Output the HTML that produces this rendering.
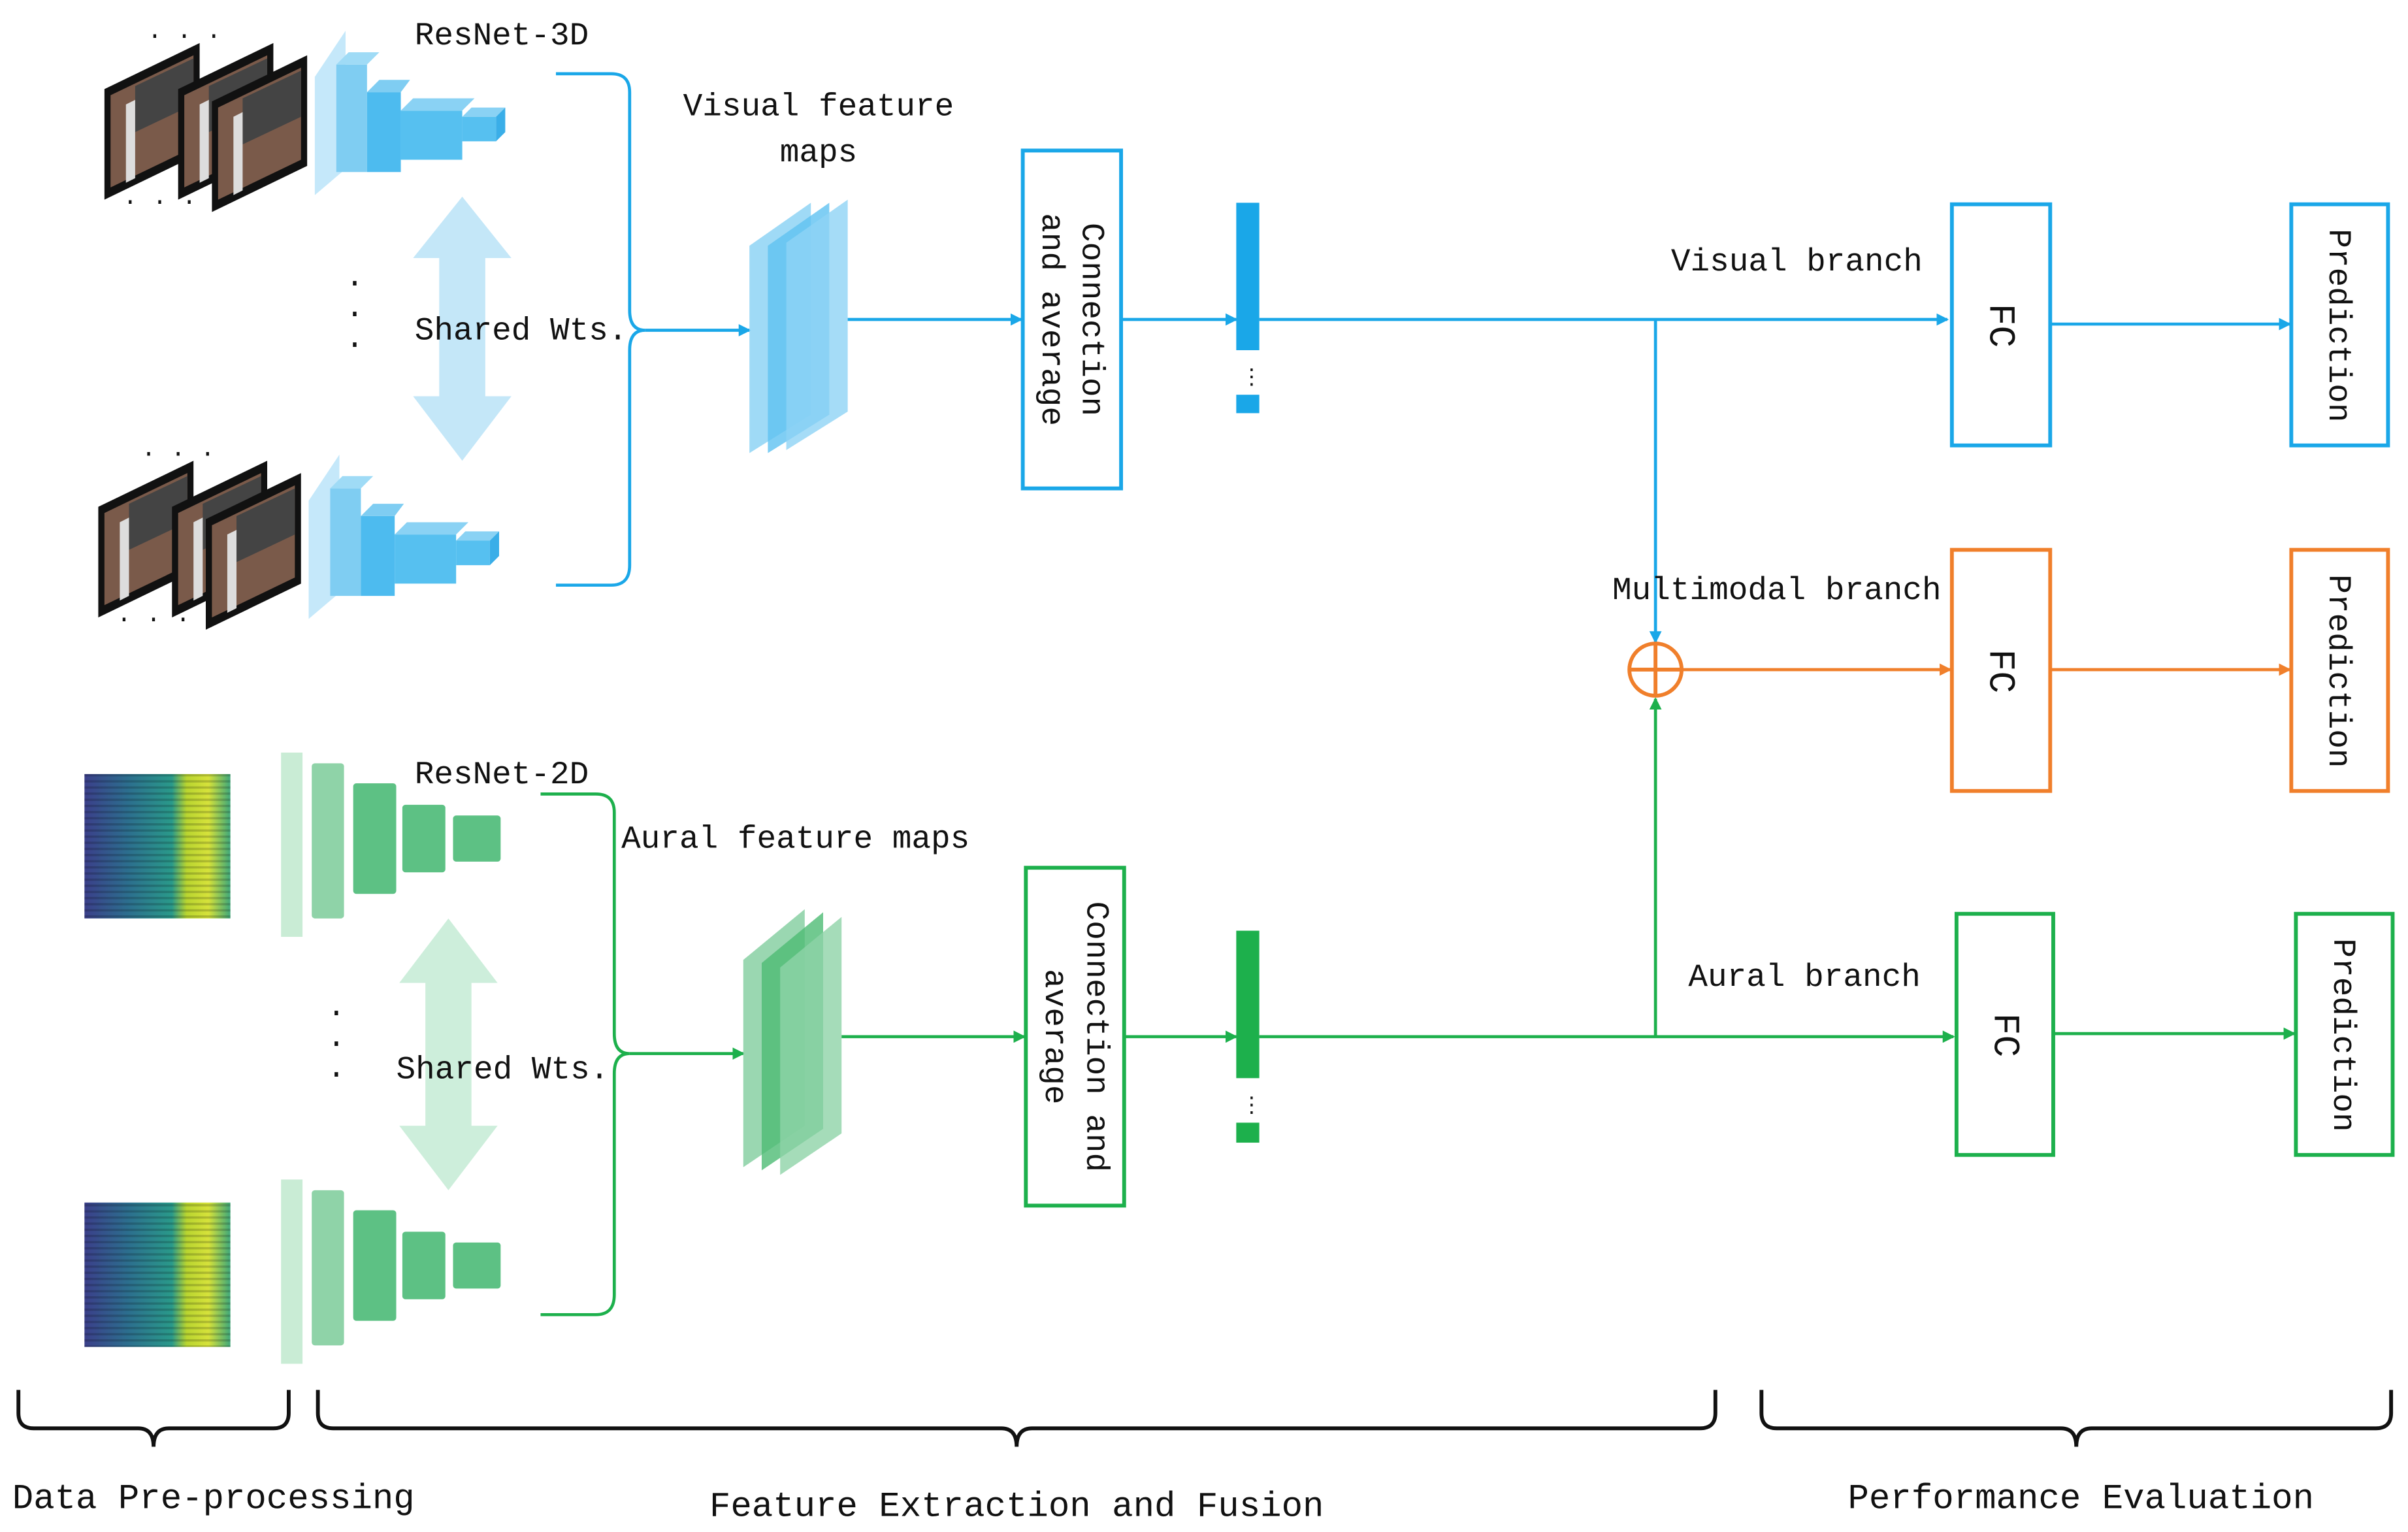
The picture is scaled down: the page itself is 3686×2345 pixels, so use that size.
<!DOCTYPE html>
<html><head><style>
html,body{margin:0;padding:0;background:#fff;}
svg{display:block;}
text{font-family:"Liberation Mono","Noto Serif CJK SC",monospace;fill:#111;}
</style></head><body>
<svg width="3686" height="2345" viewBox="0 0 1568 997.5" xmlns="http://www.w3.org/2000/svg">
<defs>
<marker id="ab" markerWidth="8" markerHeight="8" refX="7" refY="4" orient="auto" markerUnits="userSpaceOnUse"><path d="M0,0 L8,4 L0,8 Z" fill="#1aa7e8"/></marker>
<marker id="ao" markerWidth="8" markerHeight="8" refX="7" refY="4" orient="auto" markerUnits="userSpaceOnUse"><path d="M0,0 L8,4 L0,8 Z" fill="#f07f2b"/></marker>
<marker id="ag" markerWidth="8" markerHeight="8" refX="7" refY="4" orient="auto" markerUnits="userSpaceOnUse"><path d="M0,0 L8,4 L0,8 Z" fill="#1db04c"/></marker>
<linearGradient id="spec" x1="0" x2="1" y1="0" y2="0">
<stop offset="0" stop-color="#3b3f8a"/><stop offset="0.3" stop-color="#2c6f8e"/><stop offset="0.6" stop-color="#2a9a8a"/><stop offset="0.7" stop-color="#b9d530"/><stop offset="0.85" stop-color="#d6e23a"/><stop offset="1" stop-color="#3fa87a"/>
</linearGradient>
<pattern id="lines" width="4" height="4" patternUnits="userSpaceOnUse"><rect width="4" height="1.5" fill="#000" opacity="0.18"/></pattern>
<g id="frame">
<polygon points="0,30 62,0 62,72 0,102" fill="#111"/>
<polygon points="4,34 58,8 58,68 4,94" fill="#7a5a4a"/>
<polygon points="20,28 58,10 58,40 20,58" fill="#444"/>
<polygon points="14,40 20,37 20,88 14,91" fill="#ddd"/>
</g>
<g id="frames">
<use href="#frame" x="0" y="0"/>
<use href="#frame" x="48" y="0"/>
<use href="#frame" x="70" y="8"/>
<text x="28" y="0" font-size="16">· · ·</text>
<text x="12" y="108" font-size="16">· · ·</text>
</g>
<g id="cnn3d">
<polygon points="0,48 20,18 20,108 0,125" fill="#bfe6fa" opacity="0.9"/>
<rect x="14" y="40" width="20" height="70" fill="#7fcdf2"/>
<polygon points="14,40 22,32 42,32 34,40" fill="#9fdbf6"/>
<rect x="34" y="58" width="22" height="52" fill="#4dbbef"/>
<polygon points="34,58 42,50 62,50 56,58" fill="#7fcdf2"/>
<rect x="56" y="70" width="40" height="32" fill="#56c0f0"/>
<polygon points="56,70 64,62 104,62 96,70" fill="#8ad2f4"/>
<rect x="96" y="74" width="22" height="16" fill="#56c0f0"/>
<polygon points="96,74 102,68 124,68 118,74" fill="#8ad2f4"/>
<polygon points="118,74 124,68 124,84 118,90" fill="#3aaee8"/>
</g>
<g id="cnn2d">
<rect x="0" y="0" width="14" height="120" fill="#c9ecd5"/>
<rect x="20" y="7" width="21" height="101" rx="2" fill="#8fd3a8"/>
<rect x="47" y="20" width="28" height="72" rx="2" fill="#5dc184"/>
<rect x="79" y="34" width="28" height="44" rx="2" fill="#5dc184"/>
<rect x="112" y="41" width="31" height="30" rx="2" fill="#5dc184"/>
</g>
</defs>

<use href="#frames" x="68" y="28"/>
<use href="#cnn3d" x="205" y="2"/>
<text x="270" y="29" font-size="21">ResNet-3D</text>
<use href="#frames" x="64" y="300"/>
<use href="#cnn3d" x="201" y="278"/>
<polygon points="301,128 333,168 316,168 316,258 333,258 301,300 269,258 286,258 286,168 269,168" fill="#c4e7f8"/>
<text x="270" y="221" font-size="21">Shared Wts.</text>
<text x="225" y="190" font-size="20">·</text><text x="225" y="210" font-size="20">·</text><text x="225" y="230" font-size="20">·</text>
<path d="M362,48 L398,48 Q410,48 410,60 L410,202 Q410,215 420,215 Q410,215 410,228 L410,368 Q410,381 398,381 L362,381" fill="none" stroke="#1aa7e8" stroke-width="2"/>
<line x1="420" y1="215" x2="488" y2="215" stroke="#1aa7e8" stroke-width="2" marker-end="url(#ab)"/>
<text x="533" y="75" font-size="21" text-anchor="middle">Visual feature</text>
<text x="533" y="105" font-size="21" text-anchor="middle">maps</text>
<polygon points="488,160 528,132 528,270 488,295" fill="#8ed3f5" opacity="0.85"/>
<polygon points="500,160 540,132 540,270 500,295" fill="#5fc2f1" opacity="0.8"/>
<polygon points="512,158 552,130 552,268 512,293" fill="#8ed3f5" opacity="0.8"/>
<line x1="552" y1="208" x2="665" y2="208" stroke="#1aa7e8" stroke-width="2" marker-end="url(#ab)"/>
<rect x="666" y="98" width="64" height="220" fill="#fff" stroke="#1aa7e8" stroke-width="2.5"/>
<text transform="translate(705,208) rotate(90)" font-size="21" text-anchor="middle">Connection</text>
<text transform="translate(679,208) rotate(90)" font-size="21" text-anchor="middle">and average</text>
<line x1="730" y1="208" x2="805" y2="208" stroke="#1aa7e8" stroke-width="2" marker-end="url(#ab)"/>
<rect x="805" y="132" width="15" height="96" fill="#1aa7e8"/>
<text x="808" y="250" font-size="14" fill="#1aa7e8">⋮</text>
<rect x="805" y="257" width="15" height="12" fill="#1aa7e8"/>
<line x1="820" y1="208" x2="1268" y2="208" stroke="#1aa7e8" stroke-width="2" marker-end="url(#ab)"/>
<line x1="1078" y1="208" x2="1078" y2="418" stroke="#1aa7e8" stroke-width="2" marker-end="url(#ab)"/>
<text x="1170" y="176" font-size="21" text-anchor="middle">Visual branch</text>
<rect x="1271" y="133" width="64" height="157" fill="#fff" stroke="#1aa7e8" stroke-width="2.5"/>
<text transform="translate(1296,212) rotate(90)" font-size="24" text-anchor="middle">FC</text>
<line x1="1335" y1="211" x2="1491" y2="211" stroke="#1aa7e8" stroke-width="2" marker-end="url(#ab)"/>
<rect x="1492" y="133" width="63" height="157" fill="#fff" stroke="#1aa7e8" stroke-width="2.5"/>
<text transform="translate(1517,212) rotate(90)" font-size="21" text-anchor="middle">Prediction</text>

<circle cx="1078" cy="436" r="17" fill="none" stroke="#f07f2b" stroke-width="2.5"/>
<line x1="1061" y1="436" x2="1095" y2="436" stroke="#f07f2b" stroke-width="2.5"/>
<line x1="1078" y1="419" x2="1078" y2="453" stroke="#f07f2b" stroke-width="2.5"/>
<line x1="1095" y1="436" x2="1270" y2="436" stroke="#f07f2b" stroke-width="2" marker-end="url(#ao)"/>
<text x="1157" y="390" font-size="21" text-anchor="middle">Multimodal branch</text>
<rect x="1271" y="358" width="64" height="157" fill="#fff" stroke="#f07f2b" stroke-width="2.5"/>
<text transform="translate(1296,437) rotate(90)" font-size="24" text-anchor="middle">FC</text>
<line x1="1335" y1="436" x2="1491" y2="436" stroke="#f07f2b" stroke-width="2" marker-end="url(#ao)"/>
<rect x="1492" y="358" width="63" height="157" fill="#fff" stroke="#f07f2b" stroke-width="2.5"/>
<text transform="translate(1517,437) rotate(90)" font-size="21" text-anchor="middle">Prediction</text>

<rect x="55" y="504" width="95" height="94" fill="url(#spec)"/>
<rect x="55" y="504" width="95" height="94" fill="url(#lines)"/>
<rect x="55" y="783" width="95" height="94" fill="url(#spec)"/>
<rect x="55" y="783" width="95" height="94" fill="url(#lines)"/>
<use href="#cnn2d" x="183" y="490"/>
<use href="#cnn2d" x="183" y="768"/>
<text x="270" y="510" font-size="21">ResNet-2D</text>
<polygon points="292,598 324,640 307,640 307,733 324,733 292,775 260,733 277,733 277,640 260,640" fill="#cdeedb"/>
<text x="258" y="702" font-size="21">Shared Wts.</text>
<text x="213" y="665" font-size="20">·</text><text x="213" y="685" font-size="20">·</text><text x="213" y="705" font-size="20">·</text>
<path d="M352,517 L388,517 Q400,517 400,529 L400,673 Q400,686 410,686 Q400,686 400,699 L400,843 Q400,856 388,856 L352,856" fill="none" stroke="#1db04c" stroke-width="2"/>
<line x1="410" y1="686" x2="484" y2="686" stroke="#1db04c" stroke-width="2" marker-end="url(#ag)"/>
<text x="518" y="552" font-size="21" text-anchor="middle">Aural feature maps</text>
<polygon points="484,625 524,592 524,733 484,760" fill="#8fd3a8" opacity="0.9"/>
<polygon points="496,627 536,594 536,735 496,762" fill="#4dbb74" opacity="0.8"/>
<polygon points="508,630 548,597 548,738 508,765" fill="#8fd3a8" opacity="0.8"/>
<line x1="548" y1="675" x2="667" y2="675" stroke="#1db04c" stroke-width="2" marker-end="url(#ag)"/>
<rect x="668" y="565" width="64" height="220" fill="#fff" stroke="#1db04c" stroke-width="2.5"/>
<text transform="translate(708,675) rotate(90)" font-size="21" text-anchor="middle">Connection and</text>
<text transform="translate(681,675) rotate(90)" font-size="21" text-anchor="middle">average</text>
<line x1="732" y1="675" x2="805" y2="675" stroke="#1db04c" stroke-width="2" marker-end="url(#ag)"/>
<rect x="805" y="606" width="15" height="96" fill="#1db04c"/>
<text x="808" y="724" font-size="14" fill="#1db04c">⋮</text>
<rect x="805" y="731" width="15" height="13" fill="#1db04c"/>
<line x1="820" y1="675" x2="1272" y2="675" stroke="#1db04c" stroke-width="2" marker-end="url(#ag)"/>
<line x1="1078" y1="675" x2="1078" y2="455" stroke="#1db04c" stroke-width="2" marker-end="url(#ag)"/>
<text x="1175" y="642" font-size="21" text-anchor="middle">Aural branch</text>
<rect x="1274" y="595" width="63" height="157" fill="#fff" stroke="#1db04c" stroke-width="2.5"/>
<text transform="translate(1299,674) rotate(90)" font-size="24" text-anchor="middle">FC</text>
<line x1="1337" y1="673" x2="1494" y2="673" stroke="#1db04c" stroke-width="2" marker-end="url(#ag)"/>
<rect x="1495" y="595" width="63" height="157" fill="#fff" stroke="#1db04c" stroke-width="2.5"/>
<text transform="translate(1520,674) rotate(90)" font-size="21" text-anchor="middle">Prediction</text>

<g fill="none" stroke="#111" stroke-width="2.5">
<path d="M12,905 L12,920 Q12,930 22,930 L90,930 Q100,930 100,942 Q100,930 110,930 L178,930 Q188,930 188,920 L188,905"/>
<path d="M207,905 L207,920 Q207,930 217,930 L652,930 Q662,930 662,942 Q662,930 672,930 L1107,930 Q1117,930 1117,920 L1117,905"/>
<path d="M1147,905 L1147,920 Q1147,930 1157,930 L1342,930 Q1352,930 1352,942 Q1352,930 1362,930 L1547,930 Q1557,930 1557,920 L1557,905"/>
</g>
<text x="8" y="982" font-size="23" textLength="262">Data Pre-processing</text>
<text x="662" y="987" font-size="23" text-anchor="middle">Feature Extraction and Fusion</text>
<text x="1355" y="982" font-size="23" text-anchor="middle">Performance Evaluation</text>
</svg>
</body></html>
